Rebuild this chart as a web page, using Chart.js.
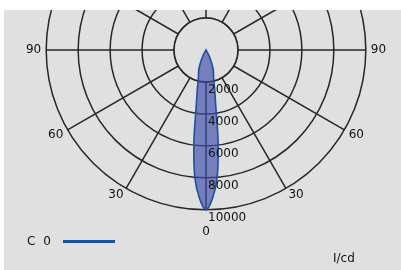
<!DOCTYPE html>
<html>
<head>
<meta charset="utf-8">
<script src="https://cdn.jsdelivr.net/npm/chart.js@4.4.1/dist/chart.umd.min.js"></script>
<style>
  html, body { margin: 0; padding: 0; background: #fff; }
  body { width: 401px; height: 270px; position: relative; overflow: hidden; font-family: "DejaVu Sans", sans-serif; color: #111; }
  #panel { position: absolute; left: 4px; top: 10px; width: 397px; height: 260px; background: #e0e0e0; overflow: hidden; }
  #polar-box { position: absolute; left: 0; top: 0; width: 390px; height: 390px; }
  #legend { position: absolute; left: 23px; top: 224px; font-size: 12px; line-height: 14px; display: flex; align-items: center; }
  #legend .name { word-spacing: 4px; }
  #legend .swatch { display: inline-block; width: 52px; height: 3px; margin-left: 12px; }
  #unit { position: absolute; left: 329px; top: 241px; font-size: 12px; line-height: 14px; }
</style>
</head>
<body>
<div id="panel">
  <div id="polar-box"><canvas id="polar-chart"></canvas></div>
  <div id="legend"></div>
  <div id="unit">I/cd</div>
</div>
<script>
// C0 plane, intensity in cd (symmetric about 0)
var gammaStep = 2.5;
var beamGamma = [0, 2.5, 5, 7.5, 10, 12.5, 15, 17.5, 20, 22.5, 25, 27.5, 30, 32.5];
var beamC0 = [10000, 9300, 8000, 5800, 3500, 2500, 1850, 1550, 1340, 1000, 680, 400, 180, 60];
var rTicks = [2000, 4000, 6000, 8000, 10000];
var gammaLabels = [0, 30, 60, 90];
var seriesName = 'C 0';

var panelColor = '#e0e0e0';
var gridColor = '#262626';
var gridWidth = 1.5;
var RADIUS = 160, CX = 202, CY = 40;

var polarChart;

function gammaOf(dir) {
  return Math.abs(180 - dir);
}

var hubMask = {
  id: 'hubMask',
  beforeDatasetsDraw: function (chart) {
    var s = chart.scales.r, ctx = chart.ctx;
    var r = s.getDistanceFromCenterForValue(rTicks[0]);
    ctx.save();
    ctx.beginPath();
    ctx.arc(s.xCenter, s.yCenter, r, 0, Math.PI * 2);
    ctx.fillStyle = panelColor;
    ctx.fill();
    ctx.lineWidth = gridWidth;
    ctx.strokeStyle = gridColor;
    ctx.stroke();
    ctx.restore();
  }
};

var tickText = {
  id: 'tickText',
  afterDatasetsDraw: function (chart) {
    var s = chart.scales.r, ctx = chart.ctx;
    ctx.save();
    ctx.font = '12px "DejaVu Sans"';
    ctx.fillStyle = '#111';
    ctx.textAlign = 'left';
    ctx.textBaseline = 'top';
    s.ticks.forEach(function (t) {
      if (rTicks.indexOf(t.value) < 0) return;
      var y = s.yCenter + s.getDistanceFromCenterForValue(t.value);
      ctx.fillText(String(t.value), s.xCenter + 2, y + 2);
    });
    ctx.restore();
  }
};

function polar() {
  var dirs = [];
  for (var d = 0; d < 360; d += gammaStep) dirs.push(d);

  var labels = dirs.map(function (d) {
    var g = gammaOf(d);
    return gammaLabels.indexOf(g) >= 0 ? String(g) : '';
  });
  var values = dirs.map(function (d) {
    var k = beamGamma.indexOf(gammaOf(d));
    return k >= 0 ? beamC0[k] : 0;
  });

  var ctx = document.getElementById('polar-chart').getContext('2d');
  Chart.defaults.font.family = '"DejaVu Sans", sans-serif';
  Chart.defaults.font.size = 12;
  Chart.defaults.color = '#111';

  polarChart = new Chart(ctx, {
    type: 'radar',
    data: {
      labels: labels,
      datasets: [{
        label: seriesName,
        data: values,
        fill: true,
        backgroundColor: 'rgba(60,75,170,0.65)',
        borderColor: '#1f4f9e',
        borderWidth: 1.6,
        pointRadius: 0,
        tension: 0.3
      }]
    },
    options: {
      responsive: true,
      maintainAspectRatio: false,
      animation: false,
      plugins: { legend: { display: false }, tooltip: { enabled: false } },
      scales: {
        r: {
          min: 0,
          max: rTicks[rTicks.length - 1],
          ticks: { display: false, stepSize: rTicks[0] },
          grid: { circular: true, color: gridColor, lineWidth: gridWidth },
          angleLines: {
            color: gridColor,
            lineWidth: function (c) { return (c.index * gammaStep) % 30 === 0 ? gridWidth : 0; }
          },
          pointLabels: {
            font: { size: 12, lineHeight: 0.35 },
            color: '#111',
            padding: function (c) { return c.label === '0' ? 20 : 5; }
          }
        }
      }
    },
    plugins: [hubMask, tickText]
  });

  // size the box so the outer ring lands on RADIUS, then put the centre in place
  var box = document.getElementById('polar-box');
  var size = 390;
  for (var i = 0; i < 3; i++) {
    var s = polarChart.scales.r;
    if (Math.abs(s.drawingArea - RADIUS) < 0.5) break;
    size = Math.round(size + 2 * (RADIUS - s.drawingArea));
    box.style.width = size + 'px';
    box.style.height = size + 'px';
    polarChart.resize();
  }
  var sc = polarChart.scales.r;
  box.style.left = (CX - sc.xCenter) + 'px';
  box.style.top = (CY - sc.yCenter) + 'px';
}

function legend() {
  var ds = polarChart.data.datasets[0];
  var el = document.getElementById('legend');
  el.innerHTML = '<span class="name">' + ds.label + '</span><span class="swatch"></span>';
  el.querySelector('.swatch').style.background = ds.borderColor;
}

polar();
legend();
</script>
</body>
</html>
